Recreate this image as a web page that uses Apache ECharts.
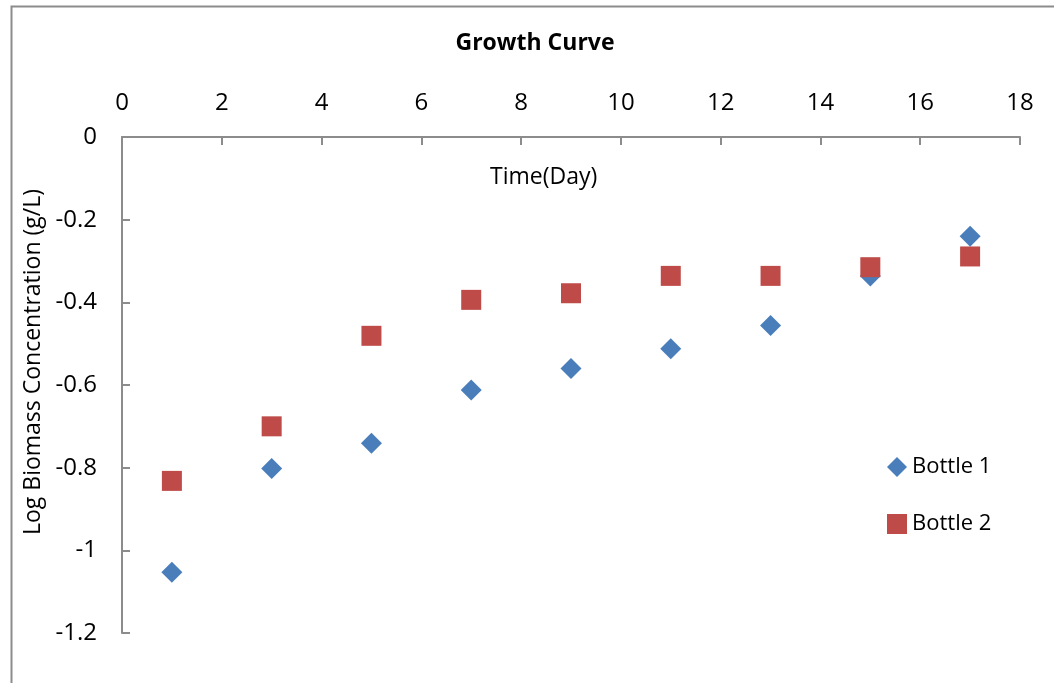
<!DOCTYPE html>
<html>
<head>
<meta charset="utf-8">
<script src="https://cdn.jsdelivr.net/npm/echarts@6/dist/echarts.min.js"></script>
<style>
  html, body { margin: 0; padding: 0; background: #fff; }
  #chart { width: 1054px; height: 683px; }
</style>
</head>
<body>
<div id="chart"></div>
<script>
// Sampling days
const days = [1, 3, 5, 7, 9, 11, 13, 15, 17];
// Log biomass concentration (g/L) per bottle
const bottle1 = [-1.053, -0.802, -0.741, -0.612, -0.560, -0.512, -0.456, -0.336, -0.240];
const bottle2 = [-0.832, -0.700, -0.481, -0.394, -0.378, -0.336, -0.336, -0.315, -0.289];
const seriesNames = ['Bottle 1', 'Bottle 2'];
const titleText = 'Growth Curve';
const xAxisTitle = 'Time(Day)';
const yAxisTitle = 'Log Biomass Concentration (g/L)';

const FONT = '"Open Sans", "Liberation Sans", sans-serif';
const axisGray = '#8c8c8c';

const pairs = (ys) => days.map((d, i) => [d, ys[i]]);

const chart = echarts.init(document.getElementById('chart'), null, { renderer: 'canvas' });
chart.setOption({
  backgroundColor: '#ffffff',
  animation: false,
  title: {
    text: titleText,
    left: 535,
    top: 32,
    textAlign: 'center',
    padding: 0,
    textStyle: { fontFamily: FONT, fontWeight: 'bold', fontSize: 23, color: '#000' }
  },
  legend: {
    orient: 'vertical',
    left: 887,
    top: 456,
    padding: 0,
    itemWidth: 20,
    itemHeight: 20,
    itemGap: 35,
    textStyle: { fontFamily: FONT, fontSize: 22, color: '#000' },
    data: [
      { name: seriesNames[0], icon: 'diamond' },
      { name: seriesNames[1], icon: 'rect' }
    ]
  },
  grid: { left: 122, right: 34, top: 137, bottom: 50, containLabel: false },
  xAxis: {
    type: 'value',
    position: 'top',
    min: 0, max: 18, interval: 2,
    axisLine: { show: true, onZero: false, lineStyle: { color: axisGray, width: 2 } },
    axisTick: { show: true, inside: true, length: 8, lineStyle: { color: axisGray, width: 2 } },
    axisLabel: { fontFamily: FONT, fontSize: 24, color: '#000', margin: 22 },
    splitLine: { show: false }
  },
  yAxis: {
    type: 'value',
    min: -1.2, max: 0, interval: 0.2,
    axisLine: { show: true, onZero: false, lineStyle: { color: axisGray, width: 2 } },
    axisTick: { show: true, inside: true, length: 8, lineStyle: { color: axisGray, width: 2 } },
    axisLabel: {
      fontFamily: FONT, fontSize: 24, color: '#000', margin: 25,
      formatter: (v) => String(Math.round(v * 10) / 10)
    },
    splitLine: { show: false }
  },
  graphic: [
    {
      type: 'rect', left: 9, top: 4, silent: true,
      shape: { width: 1100, height: 720 },
      style: { fill: 'none', stroke: '#8c8c8c', lineWidth: 2 }
    },
    {
      type: 'text', left: 490, top: 166, silent: true,
      style: { text: xAxisTitle, font: '23px ' + FONT, fill: '#000' }
    },
    {
      type: 'text', x: 33, y: 362, rotation: Math.PI / 2, silent: true,
      style: { text: yAxisTitle, font: '23px ' + FONT, fill: '#000', align: 'center', verticalAlign: 'middle' }
    }
  ],
  series: [
    {
      name: seriesNames[0], type: 'scatter', symbol: 'diamond', symbolSize: 21,
      itemStyle: { color: '#4a7ebb', opacity: 1 }, data: pairs(bottle1)
    },
    {
      name: seriesNames[1], type: 'scatter', symbol: 'rect', symbolSize: 20,
      itemStyle: { color: '#be4b48', opacity: 1 }, data: pairs(bottle2)
    }
  ]
});
</script>
</body>
</html>
